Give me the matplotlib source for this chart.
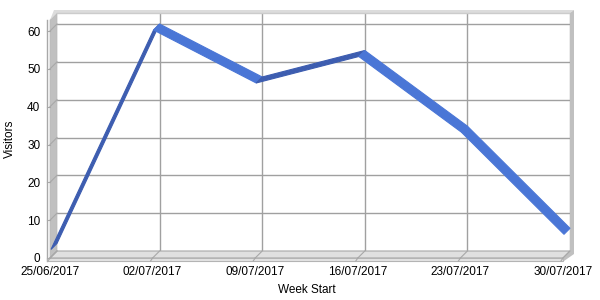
import matplotlib
matplotlib.use("Agg")
import matplotlib.pyplot as plt
import matplotlib.transforms as mtransforms
from matplotlib.patches import Polygon
import numpy as np

# ---- data ----
weeks = ["25/06/2017", "02/07/2017", "09/07/2017", "16/07/2017", "23/07/2017", "30/07/2017"]
visitors = [2, 60, 46, 53, 33, 6]
y_ticks = [0, 10, 20, 30, 40, 50, 60]
x_label = "Week Start"
y_label = "Visitors"

W, H = 600, 300
plt.rcParams['font.family'] = ['Liberation Sans', 'DejaVu Sans']
fig = plt.figure(figsize=(W / 100, H / 100), dpi=100)
fig.patch.set_facecolor('white')

def P(x, y):
    return (x / W, 1 - y / H)

def fpoly(pts, **kw):
    fig.add_artist(Polygon([P(x, y) for x, y in pts], closed=True,
                           transform=fig.transFigure, **kw))

def fline(x0, y0, x1, y1, **kw):
    fig.add_artist(plt.Line2D([x0 / W, x1 / W], [1 - y0 / H, 1 - y1 / H],
                              transform=fig.transFigure, **kw))

# geometry (pixels)
BL, BR, BT, BB = 57, 570, 13, 251   # back wall
D = 7                                # depth offset (front = left/down)
RD = 6                               # ribbon depth
YMAX = (BB - BT) / 3.783

# back wall axes
ax = fig.add_axes([BL / W, 1 - BB / H, (BR - BL) / W, (BB - BT) / H])
ax.set_xlim(0, len(weeks) - 1)
ax.set_ylim(0, YMAX)
ax.set_facecolor('white')
for s in ax.spines.values():
    s.set_visible(False)
ax.set_xticks([]); ax.set_yticks([])
xs = np.arange(len(weeks))
for yv in y_ticks[1:]:
    ax.axhline(yv, color='#a0a0a0', lw=1, zorder=1)
for xv in xs[1:]:
    ax.axvline(xv, color='#a0a0a0', lw=1, zorder=1)

# front axes for labels
axf = fig.add_axes([(BL - D) / W, 1 - (BB + D) / H, (BR - BL) / W, (BB - BT) / H])
axf.set_facecolor('none')
axf.set_xlim(0, len(weeks) - 1)
axf.set_ylim(0, YMAX)
for s in axf.spines.values():
    s.set_visible(False)
axf.set_xticks(xs)
axf.set_xticklabels(weeks, fontsize=8.5)
axf.set_yticks(y_ticks)
axf.set_yticklabels([str(v) for v in y_ticks], fontsize=8.5)
axf.tick_params(axis='y', length=0, pad=7)
axf.tick_params(axis='x', length=0, pad=6)
axf.set_xlabel(x_label, fontsize=8.5, labelpad=4)
axf.set_ylabel(y_label, fontsize=8.5, labelpad=8)

# 3D frame decorations
# left wall
fpoly([(BL, BT), (BL, BB), (BL - D, BB + D), (BL - D, BT + D)],
      facecolor='#c0c0c0', edgecolor='#b8b8b8', lw=0.5, zorder=2)
# left axis line
fline(47, BT + D, 47, BB + D + 3, color='#a8a8a8', lw=1, zorder=2)
# floor
fpoly([(BL, BB), (BR, BB), (BR - D, BB + D), (BL - D, BB + D)],
      facecolor='#e0e0e0', edgecolor='#a8a8a8', lw=0.8, zorder=2)
# floor front lip
fpoly([(BL - D - 3, BB + D), (BR - D, BB + D), (BR - D, BB + D + 3), (BL - D - 3, BB + D + 3)],
      facecolor='#e4e4e4', edgecolor='#b4b4b4', lw=0.8, zorder=2)
# top edge
fpoly([(BL - D, BT + D), (BL - 3, BT - 3), (BR + 4, BT - 3), (BR, BT), (BL, BT)],
      facecolor='#dcdcdc', edgecolor='none', zorder=2)
fline(BL, BT, BR, BT, color='#cccccc', lw=1, zorder=2)
# right wall
fpoly([(BR, BT), (BR + 4, BT - 3), (BR + 4, BB + 3), (BR - D + 1, BB + D + 3),
       (BR - D, BB + D), (BR, BB)],
      facecolor='#c0c0c0', edgecolor='none', zorder=2)
# floor diagonals for grid
for xv in xs:
    bx, by = ax.transData.transform((xv, 0))
    fline(bx, H - by, bx - D, H - by + D, color='#a8a8a8', lw=0.8, zorder=2)
    fline(bx - D, H - by + D, bx - D - 2, H - by + D + 3, color='#a8a8a8', lw=0.8, zorder=2)
# left wall grid diagonals
for yv in y_ticks:
    bx, by = ax.transData.transform((0, yv))
    fline(bx, H - by, bx - D, H - by + D, color='#a8a8a8', lw=0.8, zorder=2)
    fline(bx - D - 3, H - by + D, bx - D, H - by + D, color='#a8a8a8', lw=0.8, zorder=2)

# ribbon line
back = ax.transData.transform(np.column_stack([xs, visitors]))
front = back + np.array([-RD, -RD])
for i in range(len(xs) - 1):
    rising = visitors[i + 1] > visitors[i]
    col = '#3d5db0' if rising else '#4a76d6'
    poly = [back[i], back[i + 1], front[i + 1], front[i]]
    fig.add_artist(Polygon(poly, closed=True, transform=mtransforms.IdentityTransform(),
                           facecolor=col, edgecolor=col, lw=0.8, zorder=5))

fig.savefig("out.png", dpi=100)
